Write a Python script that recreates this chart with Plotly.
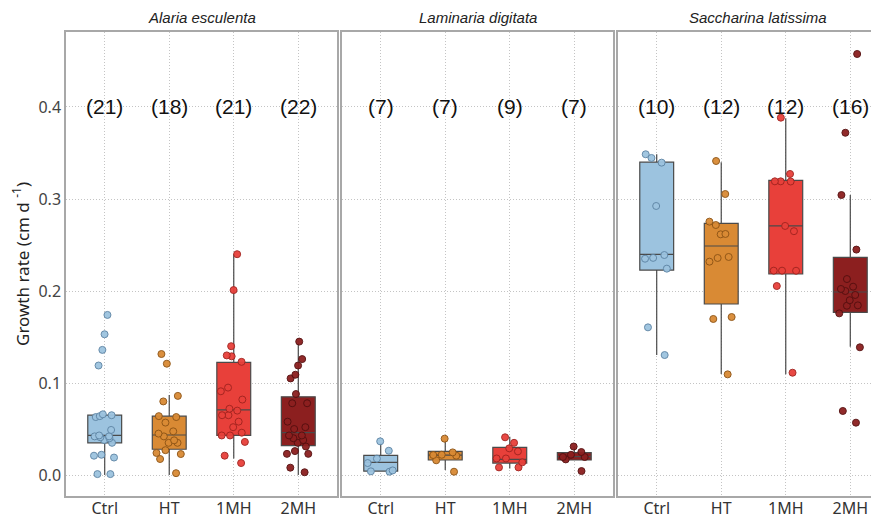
import plotly.graph_objects as go

# ---------------- data ----------------
groups = ["Ctrl", "HT", "1MH", "2MH"]
species = ["Alaria esculenta", "Laminaria digitata", "Saccharina latissima"]

ae_ctrl = [0.174, 0.153, 0.136, 0.119, 0.066, 0.065, 0.064, 0.063, 0.049, 0.043, 0.042,
           0.042, 0.041, 0.040, 0.038, 0.035, 0.022, 0.021, 0.019, 0.001, 0.001]
ae_ht = [0.1315, 0.121, 0.086, 0.080, 0.064, 0.063, 0.057, 0.0475, 0.045, 0.042, 0.0377,
         0.035, 0.035, 0.027, 0.024, 0.0228, 0.0174, 0.002]
ae_1mh = [0.240, 0.201, 0.140, 0.130, 0.129, 0.123, 0.095, 0.091, 0.082, 0.072, 0.070,
          0.065, 0.065, 0.058, 0.052, 0.046, 0.043, 0.043, 0.036, 0.021, 0.013]
ae_2mh = [0.145, 0.126, 0.119, 0.109, 0.105, 0.088, 0.078, 0.078, 0.058, 0.052, 0.050,
          0.043, 0.043, 0.040, 0.038, 0.035, 0.031, 0.026, 0.023, 0.023, 0.008, 0.003]
ae_q1 = [0.035, 0.028, 0.043, 0.032]
ae_med = [0.043, 0.0435, 0.0707, 0.046]
ae_q3 = [0.065, 0.064, 0.1225, 0.085]
ae_lo = [0.0, 0.0, 0.018, 0.0]
ae_hi = [0.065, 0.087, 0.240, 0.143]

ld_ctrl = [0.0366, 0.0264, 0.0178, 0.013, 0.005, 0.004, 0.0036]
ld_ht = [0.0395, 0.0246, 0.022, 0.0217, 0.021, 0.016, 0.0036]
ld_1mh = [0.041, 0.035, 0.029, 0.0257, 0.018, 0.018, 0.0138, 0.0083, 0.0083]
ld_2mh = [0.031, 0.025, 0.022, 0.0196, 0.0196, 0.017, 0.0043]
ld_q1 = [0.0043, 0.0163, 0.013, 0.0163]
ld_med = [0.0138, 0.0217, 0.017, 0.020]
ld_q3 = [0.0214, 0.0257, 0.030, 0.0243]
ld_lo = [0.0043, 0.0054, 0.0072, 0.0163]
ld_hi = [0.035, 0.038, 0.0417, 0.031]

sl_ctrl = [0.3486, 0.3446, 0.3395, 0.2924, 0.2391, 0.2360, 0.2351, 0.2243, 0.1605, 0.1304]
sl_ht = [0.3413, 0.3054, 0.2754, 0.2717, 0.2620, 0.2616, 0.2370, 0.2359, 0.2319, 0.1717,
         0.1696, 0.1094]
sl_1mh = [0.3884, 0.3272, 0.3192, 0.3192, 0.3190, 0.2707, 0.2650, 0.2221, 0.2221, 0.2220,
          0.2054, 0.1112]
sl_2mh = [0.4576, 0.372, 0.3043, 0.245, 0.213, 0.2047, 0.2022, 0.2000, 0.1957, 0.1900,
          0.1844, 0.1840, 0.1757, 0.1388, 0.0696, 0.0569]
sl_q1 = [0.2228, 0.1859, 0.2185, 0.1768]
sl_med = [0.2398, 0.2489, 0.2707, 0.1989]
sl_q3 = [0.340, 0.2736, 0.3203, 0.2366]
sl_lo = [0.1304, 0.1098, 0.1094, 0.1395]
sl_hi = [0.3486, 0.340, 0.3877, 0.3043]

y_ticks = [0.0, 0.1, 0.2, 0.3, 0.4]
count_y = 0.4

# ---------------- styling ----------------
fills = ["#9cc3df", "#d98a34", "#e8403a", "#8c1f1f"]
edges = ["#5f86a6", "#8f5516", "#a32420", "#561010"]

panels = [
    ([ae_ctrl, ae_ht, ae_1mh, ae_2mh], ae_q1, ae_med, ae_q3, ae_lo, ae_hi),
    ([ld_ctrl, ld_ht, ld_1mh, ld_2mh], ld_q1, ld_med, ld_q3, ld_lo, ld_hi),
    ([sl_ctrl, sl_ht, sl_1mh, sl_2mh], sl_q1, sl_med, sl_q3, sl_lo, sl_hi),
]

W, H = 879, 519
ml, mr, mt, mb = 58, 8, 24, 31
pw = W - ml - mr
domains = [[0, 271 / pw], [276 / pw, 547 / pw], [552 / pw, 1.0]]
unit = 271 / 4.2
xranges = [[-0.6, 3.6], [-0.6, 3.6], [-0.6, -0.6 + (pw - 552) / unit]]
title_x = [(domains[0][0] + domains[0][1]) / 2, (domains[1][0] + domains[1][1]) / 2,
           domains[2][0] + 140 / pw]
grid_dash = "1px,2px"

fig = go.Figure()
annotations = []
for p, (pts, q1, med, q3, lo, hi) in enumerate(panels):
    xa = "x" if p == 0 else f"x{p + 1}"
    ya = "y" if p == 0 else f"y{p + 1}"
    for g in range(4):
        fig.add_trace(go.Box(
            x=[groups[g]], y=[pts[g]],
            q1=[q1[g]], median=[med[g]], q3=[q3[g]],
            lowerfence=[lo[g]], upperfence=[hi[g]],
            orientation="v",
            boxpoints="all", jitter=1.0, pointpos=0,
            whiskerwidth=0,
            fillcolor=fills[g],
            line=dict(color="#4a4a4a", width=1.2),
            marker=dict(color=fills[g], size=7, opacity=0.95,
                        line=dict(color=edges[g], width=1)),
            xaxis=xa, yaxis=ya, showlegend=False, hoverinfo="skip",
        ))
        annotations.append(dict(
            x=groups[g], y=count_y, xref=xa, yref=ya,
            text=f"({len(pts[g])})", showarrow=False,
            font=dict(family="Liberation Sans, Arial", size=21, color="#111"),
        ))
    annotations.append(dict(
        x=title_x[p], y=1, xref="paper", yref="paper",
        xanchor="center", yanchor="bottom", yshift=4,
        text=f"<i>{species[p]}</i>", showarrow=False,
        font=dict(family="Liberation Sans, Arial", size=15, color="#222"),
    ))

layout = dict(
    width=W, height=H,
    margin=dict(l=ml, r=mr, t=mt, b=mb, autoexpand=False),
    paper_bgcolor="white", plot_bgcolor="white",
    boxgap=0.25, boxmode="overlay",
    annotations=annotations,
    font=dict(family="Noto Sans", color="#333"),
)
for p in range(3):
    xk = "xaxis" if p == 0 else f"xaxis{p + 1}"
    yk = "yaxis" if p == 0 else f"yaxis{p + 1}"
    layout[xk] = dict(
        domain=domains[p], anchor="y" if p == 0 else f"y{p + 1}",
        type="category", categoryorder="array", categoryarray=groups,
        range=xranges[p], showgrid=True, gridcolor="#c4c4c4", griddash=grid_dash,
        gridwidth=1, showline=True, mirror=True, linecolor="#a8a8a8", linewidth=1.5,
        ticks="", tickfont=dict(family="Noto Sans", size=16, color="#333"),
        ticklabelstandoff=-3,
        zeroline=False, automargin=False, fixedrange=True,
    )
    layout[yk] = dict(
        domain=[0, 1], anchor="x" if p == 0 else f"x{p + 1}",
        range=[-0.0228, 0.4815], tickvals=y_ticks,
        ticktext=[f"{v:.1f}" for v in y_ticks],
        showticklabels=(p == 0),
        showgrid=True, gridcolor="#c4c4c4", griddash=grid_dash, gridwidth=1,
        showline=True, mirror=(p < 2), linecolor="#a8a8a8", linewidth=1.5,
        ticks="", tickfont=dict(family="Noto Sans", size=16, color="#444"),
        zeroline=False, automargin=False, fixedrange=True,
    )
    if p > 0:
        layout[yk]["matches"] = "y"
layout["yaxis"]["title"] = dict(
    text="Growth rate (cm d <sup>-1</sup>)",
    font=dict(family="Noto Sans", size=17, color="#222"), standoff=5,
)

fig.update_layout(**layout)
fig.write_html("out.html")
